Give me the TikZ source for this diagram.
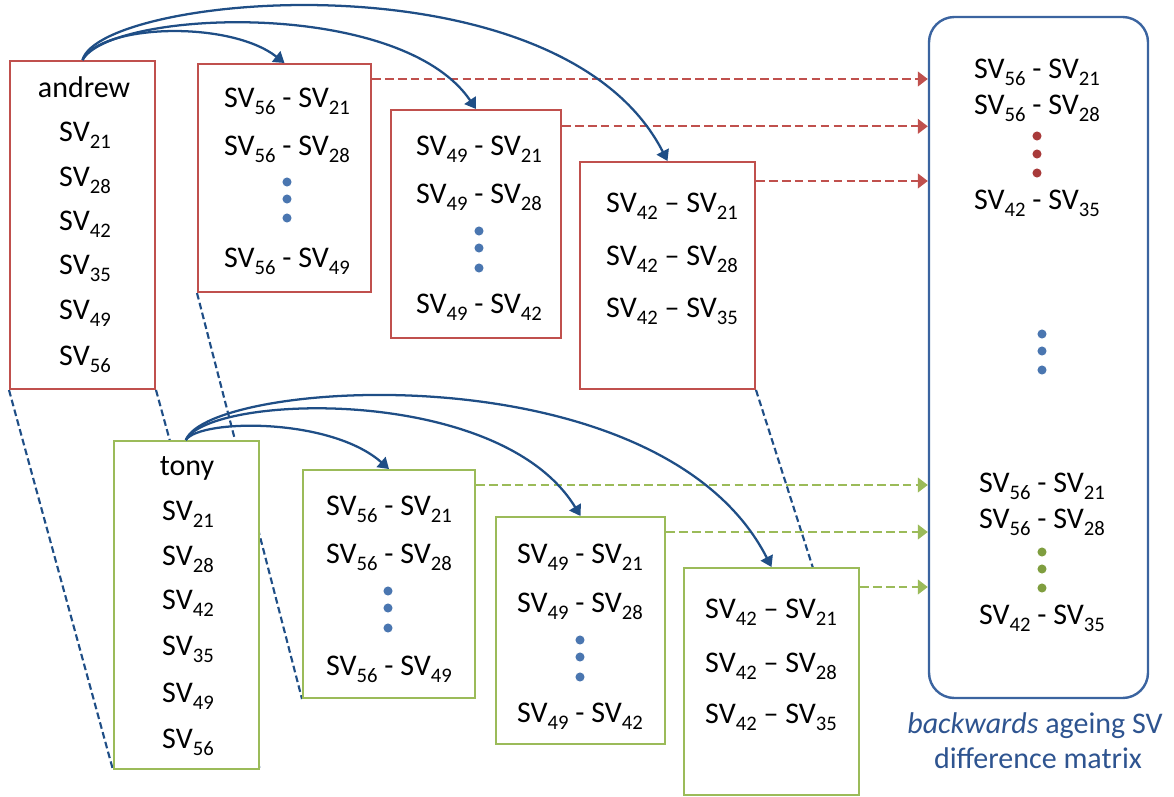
\documentclass[tikz,border=0pt]{standalone}
\usepackage{fontspec}
\setmainfont{Carlito}
\usetikzlibrary{arrows.meta,fit,backgrounds}

\definecolor{boxred}{HTML}{C0504D}
\definecolor{boxgreen}{HTML}{9BBB59}
\definecolor{navy}{HTML}{1F4E86}
\definecolor{matblue}{HTML}{3B64A0}
\definecolor{dotblue}{HTML}{4A76B0}
\definecolor{dotred}{HTML}{A83A3A}
\definecolor{dotgreen}{HTML}{7F9E3F}
\definecolor{capblue}{HTML}{2E5490}

% SV with a lowered index, and the two kinds of difference
\newcommand\svs[1]{SV\raisebox{-5.5pt}{\fontsize{15.5pt}{15.5pt}\selectfont #1}}
\newcommand\svd[2]{\svs{#1} - \svs{#2}}
\newcommand\sve[2]{\svs{#1} \textendash{} \svs{#2}}

\begin{document}
\begin{tikzpicture}[x=0.75pt,y=-0.75pt,
  every node/.style={font=\fontsize{22.5pt}{26pt}\selectfont},
  box/.style={draw, line width=1.5pt, fill=white, inner sep=0pt},
  redbox/.style={box, draw=boxred},
  greenbox/.style={box, draw=boxgreen},
  lbl/.style={anchor=base, inner sep=0pt},
  dot/.style={circle, inner sep=0pt, minimum size=6.8pt},
  bdot/.style={dot, fill=dotblue},
  rdot/.style={dot, fill=dotred},
  gdot/.style={dot, fill=dotgreen},
  curve/.style={draw=navy, line width=1.7pt, -{Triangle[length=8pt,width=10pt,fill=navy]}},
  feed/.style={line width=1.6pt, dash pattern=on 6.5pt off 3.2pt, -{Triangle[length=7.5pt,width=11pt]}},
  proj/.style={draw=navy, line width=1.6pt, dash pattern=on 5pt off 2.6pt},
]
\useasboundingbox (0,0) rectangle (1174,796);

% ---------- andrew ----------
\node[redbox, fit={(10,61) (155,389)}] (andrew) {};
\node[lbl] (an0) at (84,97) {andrew};
\node[lbl] (an1) at (85,141) {\svs{21}};
\node[lbl] (an2) at (85,186) {\svs{28}};
\node[lbl] (an3) at (85,230) {\svs{42}};
\node[lbl] (an4) at (85,274) {\svs{35}};
\node[lbl] (an5) at (85,319) {\svs{49}};
\node[lbl] (an6) at (85,365) {\svs{56}};

\node[redbox, fit={(198,64) (371,292)}] (a2) {};
\node[lbl] (a2t1) at (287,107) {\svd{56}{21}};
\node[lbl] (a2t2) at (287,155) {\svd{56}{28}};
\node[bdot] (a2d1) at (287,182) {};
\node[bdot] (a2d2) at (287,199) {};
\node[bdot] (a2d3) at (287,218) {};
\node[lbl] (a2t3) at (287,267) {\svd{56}{49}};

\node[redbox, fit={(391,110) (561,338)}] (a3) {};
\node[lbl] (a3t1) at (479,155) {\svd{49}{21}};
\node[lbl] (a3t2) at (479,203) {\svd{49}{28}};
\node[bdot] (a3d1) at (479,231) {};
\node[bdot] (a3d2) at (479,248) {};
\node[bdot] (a3d3) at (479,268) {};
\node[lbl] (a3t3) at (479,313) {\svd{49}{42}};

\node[redbox, fit={(580,162) (755,389)}] (a4) {};
\node[lbl] (a4t1) at (672,212) {\sve{42}{21}};
\node[lbl] (a4t2) at (672,265) {\sve{42}{28}};
\node[lbl] (a4t3) at (672,317) {\sve{42}{35}};

% ---------- tony ----------
\node[greenbox, fit={(114,441) (259,769)}] (tony) {};
\node[lbl] (to0) at (187,475) {tony};
\node[lbl] (to1) at (188,520) {\svs{21}};
\node[lbl] (to2) at (188,565) {\svs{28}};
\node[lbl] (to3) at (188,609) {\svs{42}};
\node[lbl] (to4) at (188,655) {\svs{35}};
\node[lbl] (to5) at (188,702) {\svs{49}};
\node[lbl] (to6) at (188,748) {\svs{56}};

\node[greenbox, fit={(303,470) (475,698)}] (t2) {};
\node[lbl] (t2t1) at (389,515) {\svd{56}{21}};
\node[lbl] (t2t2) at (389,563) {\svd{56}{28}};
\node[bdot] (t2d1) at (388,591) {};
\node[bdot] (t2d2) at (388,608) {};
\node[bdot] (t2d3) at (388,628) {};
\node[lbl] (t2t3) at (389,675) {\svd{56}{49}};

\node[greenbox, fit={(496,517) (665,744)}] (t3) {};
\node[lbl] (t3t1) at (580,563) {\svd{49}{21}};
\node[lbl] (t3t2) at (580,612) {\svd{49}{28}};
\node[bdot] (t3d1) at (580,640) {};
\node[bdot] (t3d2) at (580,657) {};
\node[bdot] (t3d3) at (580,677) {};
\node[lbl] (t3t3) at (580,722) {\svd{49}{42}};

\node[greenbox, fit={(684,568) (859,795)}] (t4) {};
\node[lbl] (t4t1) at (771,618) {\sve{42}{21}};
\node[lbl] (t4t2) at (771,672) {\sve{42}{28}};
\node[lbl] (t4t3) at (771,723) {\sve{42}{35}};

% ---------- difference matrix ----------
\node[draw=matblue, line width=1.8pt, rounded corners=19pt, inner sep=0pt,
      fit={(929,17) (1148,698)}] (mat) {};
\node[lbl] (m1) at (1037,78) {\svd{56}{21}};
\node[lbl] (m2) at (1037,114) {\svd{56}{28}};
\node[rdot] (md1) at (1037,136) {};
\node[rdot] (md2) at (1037,154) {};
\node[rdot] (md3) at (1037,173) {};
\node[lbl] (m3) at (1037,209) {\svd{42}{35}};
\node[bdot] (mb1) at (1042,334) {};
\node[bdot] (mb2) at (1042,351) {};
\node[bdot] (mb3) at (1042,370) {};
\node[lbl] (m4) at (1042,492) {\svd{56}{21}};
\node[lbl] (m5) at (1042,528) {\svd{56}{28}};
\node[gdot] (mg1) at (1042,552) {};
\node[gdot] (mg2) at (1042,569) {};
\node[gdot] (mg3) at (1042,588) {};
\node[lbl] (m6) at (1042,624) {\svd{42}{35}};

\node[lbl, text=capblue] (cap1) at (1035,733) {\textit{backwards} ageing SV};
\node[lbl, text=capblue] (cap2) at (1038,768) {difference matrix};

% ---------- dashed projections between the two people ----------
\coordinate (t4hit) at (813,568);
\begin{scope}[on background layer]
  \draw[proj] (andrew.south west) -- (tony.south west);
  \draw[proj] (andrew.south east) -- (tony.south east);
  \draw[proj] (a2.south west) -- (t2.south west);
  \draw[proj] (a4.south east) -- (t4hit);
\end{scope}

% ---------- feeds into the matrix ----------
\coordinate (fa2) at ([yshift=-12pt]a2.north east);
\coordinate (fa3) at ([yshift=-13pt]a3.north east);
\coordinate (fa4) at ([yshift=-15pt]a4.north east);
\coordinate (ft2) at ([yshift=-12pt]t2.north east);
\coordinate (ft3) at ([yshift=-12pt]t3.north east);
\coordinate (ft4) at ([yshift=-15pt]t4.north east);
\draw[feed, draw=boxred] (fa2) -- (fa2 -| mat.west);
\draw[feed, draw=boxred] (fa3) -- (fa3 -| mat.west);
\draw[feed, draw=boxred] (fa4) -- (fa4 -| mat.west);
\draw[feed, draw=boxgreen] (ft2) -- (ft2 -| mat.west);
\draw[feed, draw=boxgreen] (ft3) -- (ft3 -| mat.west);
\draw[feed, draw=boxgreen] (ft4) -- (ft4 -| mat.west);

% ---------- curved arrows from each person ----------
\draw[curve] (andrew.north) .. controls +(18,-36) and +(-55,-43) .. (a2.north);
\draw[curve] (andrew.north) .. controls +(28,-50) and +(-76,-112) .. (a3.north);
\draw[curve] (andrew.north) .. controls +(18,-66) and +(-107,-210) .. (a4.north);

\coordinate (ts) at ([xshift=-0.5pt]tony.north);
\draw[curve] (ts) .. controls +(14,-21) and +(-59,-52) .. (t2.north);
\draw[curve] (ts) .. controls +(24,-46) and +(-80,-132) .. (t3.north);
\draw[curve] (ts) .. controls +(24,-61) and +(-111,-218) .. (t4.north);
\end{tikzpicture}
\end{document}
